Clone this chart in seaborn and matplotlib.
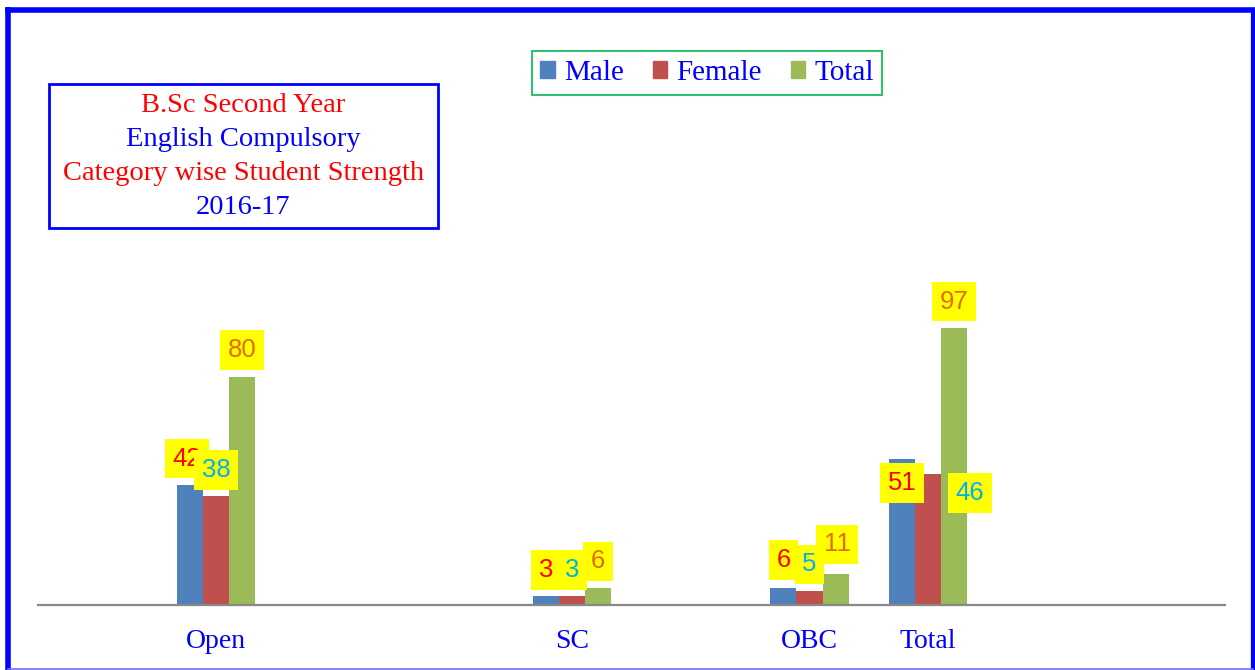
import matplotlib
matplotlib.use('Agg')

import pandas as pd
import matplotlib.pyplot as plt
import matplotlib.patches as patches
from matplotlib.lines import Line2D
import seaborn as sns

# chart data
categories = ['Open', 'SC', 'OBC', 'Total']
male = [42, 3, 6, 51]
female = [38, 3, 5, 46]
total = [80, 6, 11, 97]
series_names = ['Male', 'Female', 'Total']
title_lines = ['B.Sc Second Year', 'English Compulsory',
               'Category wise Student Strength', '2016-17']

# the original spreads the categories over 10 slots, some left empty
slot_order = ['', 'Open', ' ', '  ', 'SC', '   ', 'OBC', 'Total', '    ', '     ']

df = pd.DataFrame({
    'category': categories * 3,
    'series': [s for s in series_names for _ in categories],
    'value': male + female + total,
})

sns.set_style('white')
plt.rcParams['font.family'] = ['Liberation Serif', 'DejaVu Serif']

bar_colors = ['#4F81BD', '#C0504D', '#9BBB59']
label_colors = ['#FF0000', '#00B0F0', '#E36C09']

fig = plt.figure(figsize=(12.55, 6.7), dpi=100)
ax = fig.add_axes([38 / 1255, 1 - 605 / 670, 1187 / 1255, 285.6 / 670])

sns.barplot(data=df, x='category', y='value', hue='series', order=slot_order,
            hue_order=series_names, palette=bar_colors, width=0.66,
            saturation=1, ax=ax, legend=False, edgecolor='none')

ax.set_ylim(0, 100)
ax.set_xlim(-0.5, 9.5)
ax.set_xlabel('')
ax.set_ylabel('')
ax.set_yticks([])
ax.tick_params(axis='x', length=0, pad=17, labelsize=20, labelcolor='#0000FF')
for s in ['left', 'top', 'right']:
    ax.spines[s].set_visible(False)
ax.spines['bottom'].set_color('#888888')
ax.spines['bottom'].set_linewidth(1.6)

# data labels on yellow boxes; offsets (points) mimic the original placement
offsets = {
    ('Male', 'Open'): (-2, 19), ('Male', 'Total'): (0, -17),
    ('Female', 'Total'): (30, -14),
    ('Male', 'OBC'): (0, 20), ('Total', 'OBC'): (1, 21),
}
for si, (name, cont) in enumerate(zip(series_names, ax.containers)):
    vals = [male, female, total][si]
    for cat, bar, v in zip(categories, [b for b in cont if b.get_height() > 0], vals):
        dx, dy = offsets.get((name, cat), (0, 19))
        ax.annotate(str(v), xy=(bar.get_x() + bar.get_width() / 2, bar.get_height()),
                    xytext=(dx, dy), textcoords='offset points',
                    ha='center', va='center', fontsize=18.5,
                    family=['Liberation Sans', 'DejaVu Sans'],
                    color=label_colors[si], zorder=5 + si,
                    bbox=dict(boxstyle='square,pad=0.3', fc='#FFFF00', ec='none'))

# legend
handles = [patches.Patch(color=c, label=n) for c, n in zip(bar_colors, series_names)]
leg = fig.legend(handles=handles, loc='center', bbox_to_anchor=(707 / 1255, 1 - 73 / 670),
                 ncol=3, fontsize=21, frameon=True, fancybox=False,
                 handlelength=0.5, handleheight=0.5, handletextpad=0.3,
                 columnspacing=1.0, borderpad=0.3, borderaxespad=0)
leg.get_frame().set_edgecolor('#00B050')
leg.get_frame().set_linewidth(1.5)
for t in leg.get_texts():
    t.set_color('#0000FF')

# title box
fig.patches.append(patches.Rectangle((49 / 1255, 1 - 228 / 670), 389 / 1255, 144 / 670,
                                     transform=fig.transFigure, fill=False,
                                     ec='#0000FF', lw=2))
title_colors = ['#FF0000', '#0000FF', '#FF0000', '#0000FF']
for i, (line, c) in enumerate(zip(title_lines, title_colors)):
    fig.text(243.5 / 1255, 1 - (106 + 34 * i) / 670, line, ha='center', va='center',
             fontsize=20.5, color=c)

# outer border: thick top/left/right, thin bottom
W, H = 1255, 670
for xs, ys, lw, col in [([7.5, 7.5], [670, 9.5], 4, '#0000FF'),
                        ([7.5, 1252.5], [9.5, 9.5], 4, '#0000FF'),
                        ([1253, 1253], [9.5, 670], 3, '#0000FF'),
                        ([7.5, 1253], [668.5, 668.5], 1.2, '#7070FF')]:
    fig.add_artist(Line2D([x / W for x in xs], [1 - y / H for y in ys],
                          transform=fig.transFigure, lw=lw, color=col,
                          solid_capstyle='projecting'))

plt.savefig('out.png', dpi=100)
